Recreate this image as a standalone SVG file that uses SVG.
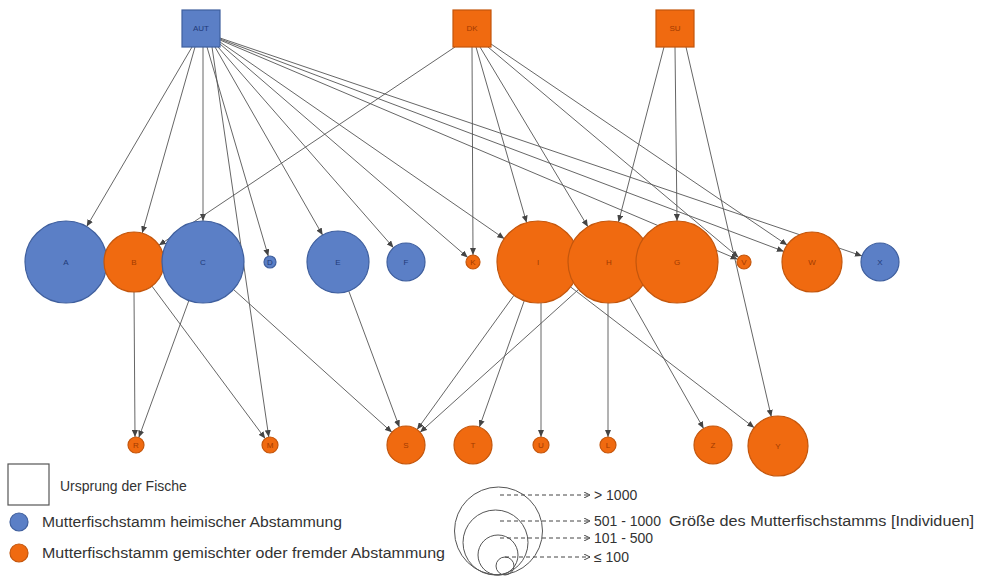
<svg xmlns="http://www.w3.org/2000/svg" width="981" height="576" viewBox="0 0 981 576">
<style>
.edge{stroke:#555;stroke-width:0.9;fill:none;marker-end:url(#arr)}
.blue{fill:#5b7fc6;stroke:#3f5f9e;stroke-width:1.2}
.orange{fill:#f06a10;stroke:#c4560c;stroke-width:1.2}
.lb{font-family:"Liberation Sans",Arial,sans-serif;font-size:8px;text-anchor:middle;fill:#1f3a78}
.lo{font-family:"Liberation Sans",Arial,sans-serif;font-size:8px;text-anchor:middle;fill:#a23a00}
.leg{font-family:"Liberation Sans",Arial,sans-serif;font-size:14px;fill:#333}
.dash{stroke:#444;stroke-width:1;stroke-dasharray:4 3;fill:none;marker-end:url(#arr2)}
.sz{fill:none;stroke:#555;stroke-width:1}
</style>
<defs>
<marker id="arr" markerUnits="userSpaceOnUse" markerWidth="7" markerHeight="6" refX="7" refY="3" orient="auto">
<path d="M0,0 L7,3 L0,6 z" fill="#444"/>
</marker>
<marker id="arr2" markerUnits="userSpaceOnUse" markerWidth="6" markerHeight="6" refX="6" refY="3" orient="auto">
<path d="M0,0 L6,3 L0,6" fill="none" stroke="#444" stroke-width="1"/>
</marker>
</defs>
<rect width="981" height="576" fill="#fff"/>
<g id="connectors">
<line class="edge" x1="192" y1="47" x2="86.7" y2="226.6"/>
<line class="edge" x1="195" y1="47" x2="142.2" y2="233.1"/>
<line class="edge" x1="203" y1="47" x2="203" y2="221"/>
<line class="edge" x1="207" y1="47" x2="268.3" y2="256.2"/>
<line class="edge" x1="212" y1="47" x2="268.8" y2="437.1"/>
<line class="edge" x1="215" y1="47" x2="322.6" y2="235.1"/>
<line class="edge" x1="218" y1="47" x2="393.5" y2="247.7"/>
<line class="edge" x1="220" y1="44" x2="467.7" y2="257.4"/>
<line class="edge" x1="220" y1="42" x2="504.3" y2="238.7"/>
<line class="edge" x1="220" y1="40" x2="737.6" y2="259.3"/>
<line class="edge" x1="220" y1="39" x2="783.9" y2="251.4"/>
<line class="edge" x1="220" y1="38" x2="862" y2="255.9"/>
<line class="edge" x1="455" y1="47" x2="158.9" y2="245.3"/>
<line class="edge" x1="472" y1="47" x2="473" y2="255"/>
<line class="edge" x1="476" y1="47" x2="526.6" y2="222.6"/>
<line class="edge" x1="480" y1="47" x2="587.9" y2="226.8"/>
<line class="edge" x1="488" y1="47" x2="738.6" y2="257.5"/>
<line class="edge" x1="491" y1="44" x2="787.2" y2="245.1"/>
<line class="edge" x1="664" y1="47" x2="618.5" y2="222"/>
<line class="edge" x1="675" y1="47" x2="677" y2="221"/>
<line class="edge" x1="686" y1="47" x2="771.3" y2="416.8"/>
<line class="edge" x1="134" y1="292" x2="135" y2="437"/>
<line class="edge" x1="188.9" y1="300.5" x2="138.8" y2="437.5"/>
<line class="edge" x1="151.9" y1="286.1" x2="265.2" y2="438.6"/>
<line class="edge" x1="233.5" y1="289.5" x2="391.9" y2="432.3"/>
<line class="edge" x1="348.8" y1="291.1" x2="399.4" y2="427.2"/>
<line class="edge" x1="514" y1="295.3" x2="417.1" y2="429.6"/>
<line class="edge" x1="578.5" y1="289.5" x2="420.1" y2="432.3"/>
<line class="edge" x1="524.3" y1="300.6" x2="479.4" y2="427.1"/>
<line class="edge" x1="541" y1="303" x2="541" y2="437"/>
<line class="edge" x1="608" y1="303" x2="608" y2="437"/>
<line class="edge" x1="629.3" y1="297.6" x2="703.6" y2="428.5"/>
<line class="edge" x1="570.5" y1="286.9" x2="754.2" y2="427.7"/>
</g>
<g id="node-AUT"><rect class="blue" x="182" y="10" width="38" height="37"/><text class="lb" x="201" y="31">AUT</text></g>
<g id="node-DK"><rect class="orange" x="453" y="10" width="38" height="37"/><text class="lo" x="472" y="31">DK</text></g>
<g id="node-SU"><rect class="orange" x="656" y="10" width="38" height="37"/><text class="lo" x="675" y="31">SU</text></g>
<g id="node-A"><circle class="blue" cx="66" cy="262" r="41"/><text class="lb" x="66" y="265">A</text></g>
<g id="node-B"><circle class="orange" cx="134" cy="262" r="30"/><text class="lo" x="134" y="265">B</text></g>
<g id="node-C"><circle class="blue" cx="203" cy="262" r="41"/><text class="lb" x="203" y="265">C</text></g>
<g id="node-D"><circle class="blue" cx="270" cy="262" r="6"/><text class="lb" x="270" y="265">D</text></g>
<g id="node-E"><circle class="blue" cx="338" cy="262" r="31"/><text class="lb" x="338" y="265">E</text></g>
<g id="node-F"><circle class="blue" cx="406" cy="262" r="19"/><text class="lb" x="406" y="265">F</text></g>
<g id="node-K"><circle class="orange" cx="473" cy="262" r="7"/><text class="lo" x="473" y="265">K</text></g>
<g id="node-I"><circle class="orange" cx="538" cy="262" r="41"/><text class="lo" x="538" y="265">I</text></g>
<g id="node-H"><circle class="orange" cx="609" cy="262" r="41"/><text class="lo" x="609" y="265">H</text></g>
<g id="node-G"><circle class="orange" cx="677" cy="262" r="41"/><text class="lo" x="677" y="265">G</text></g>
<g id="node-V"><circle class="orange" cx="744" cy="262" r="7"/><text class="lo" x="744" y="265">V</text></g>
<g id="node-W"><circle class="orange" cx="812" cy="262" r="30"/><text class="lo" x="812" y="265">W</text></g>
<g id="node-X"><circle class="blue" cx="880" cy="262" r="19"/><text class="lb" x="880" y="265">X</text></g>
<g id="node-R"><circle class="orange" cx="136" cy="445" r="8"/><text class="lo" x="136" y="448">R</text></g>
<g id="node-M"><circle class="orange" cx="270" cy="445" r="8"/><text class="lo" x="270" y="448">M</text></g>
<g id="node-S"><circle class="orange" cx="406" cy="445" r="19"/><text class="lo" x="406" y="448">S</text></g>
<g id="node-T"><circle class="orange" cx="473" cy="445" r="19"/><text class="lo" x="473" y="448">T</text></g>
<g id="node-U"><circle class="orange" cx="541" cy="445" r="8"/><text class="lo" x="541" y="448">U</text></g>
<g id="node-L"><circle class="orange" cx="608" cy="445" r="8"/><text class="lo" x="608" y="448">L</text></g>
<g id="node-Z"><circle class="orange" cx="713" cy="445" r="19"/><text class="lo" x="713" y="448">Z</text></g>
<g id="node-Y"><circle class="orange" cx="778" cy="446" r="30"/><text class="lo" x="778" y="449">Y</text></g>
<g id="legend">
<rect x="8" y="464" width="41" height="41" fill="#fff" stroke="#555" stroke-width="1.2"/>
<text class="leg" x="60" y="491">Ursprung der Fische</text>
<circle class="blue" cx="19" cy="522" r="9"/>
<text class="leg" x="42" y="527" textLength="300" lengthAdjust="spacingAndGlyphs">Mutterfischstamm heimischer Abstammung</text>
<circle class="orange" cx="19" cy="553" r="9"/>
<text class="leg" x="42" y="558" textLength="403" lengthAdjust="spacingAndGlyphs">Mutterfischstamm gemischter oder fremder Abstammung</text>
<circle class="sz" cx="498.5" cy="531" r="44"/>
<circle class="sz" cx="495.5" cy="542.5" r="32.5"/>
<circle class="sz" cx="498" cy="555" r="20"/>
<circle class="sz" cx="505" cy="566" r="9"/>
<line class="dash" x1="500" y1="495" x2="590" y2="495"/>
<line class="dash" x1="500" y1="521" x2="590" y2="521"/>
<line class="dash" x1="500" y1="538" x2="590" y2="538"/>
<line class="dash" x1="505" y1="557" x2="590" y2="557"/>
<text class="leg" x="594" y="500">&gt; 1000</text>
<text class="leg" x="594" y="526">501 - 1000</text>
<text class="leg" x="594" y="543">101 - 500</text>
<text class="leg" x="594" y="562">≤ 100</text>
<text class="leg" x="669" y="526" textLength="305" lengthAdjust="spacingAndGlyphs">Größe des Mutterfischstamms [Individuen]</text>
</g>
</svg>
